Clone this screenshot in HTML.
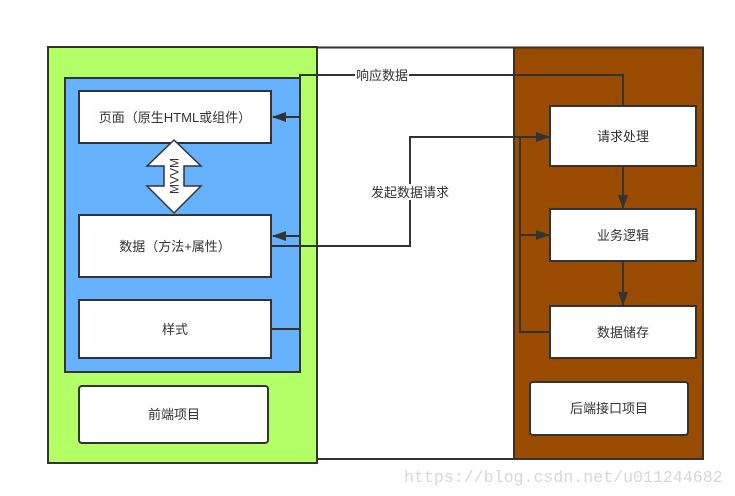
<!DOCTYPE html>
<html><head><meta charset="utf-8"><style>
html,body{margin:0;padding:0;background:#fff;width:735px;height:496px;overflow:hidden}
svg text{font-family:"Liberation Sans","Noto Sans CJK SC",sans-serif;font-size:13px;fill:#333}
</style></head><body>
<svg width="735" height="496" viewBox="0 0 735 496" xmlns="http://www.w3.org/2000/svg">
<defs>
<marker id="a" markerWidth="14" markerHeight="10" refX="13" refY="5" orient="auto" markerUnits="userSpaceOnUse">
<path d="M0,0 L14,5 L0,10 z" fill="#333"/></marker>
</defs>
<rect x="317" y="47.5" width="197" height="411.5" fill="#fff" stroke="#333" stroke-width="2"/>
<rect x="48" y="47" width="269" height="416" fill="#b3ff66" stroke="#333" stroke-width="2"/>
<rect x="514" y="47.5" width="189" height="411.5" fill="#994c00" stroke="#333" stroke-width="2"/>
<rect x="65" y="78" width="235" height="294" fill="#66b2ff" stroke="#333" stroke-width="2"/>
<rect x="79" y="91" width="192" height="52" fill="#fff" stroke="#333" stroke-width="2"/>
<text x="175" y="122" text-anchor="middle">页面（原生HTML或组件）</text>
<rect x="79" y="215" width="192" height="62" fill="#fff" stroke="#333" stroke-width="2"/>
<text x="175" y="251" text-anchor="middle">数据（方法+属性）</text>
<rect x="79" y="300" width="192" height="58" fill="#fff" stroke="#333" stroke-width="2"/>
<text x="175" y="334" text-anchor="middle">样式</text>
<rect x="79" y="386" width="189" height="57" rx="3" fill="#fff" stroke="#333" stroke-width="2"/>
<text x="174" y="419" text-anchor="middle">前端项目</text>
<path d="M174,140 L201,166 L184,166 L184,186 L201,186 L174,213 L147,186 L164,186 L164,166 L147,166 Z" fill="#fff" stroke="#333" stroke-width="1.5"/>
<text x="0" y="0" transform="translate(178.5,176) rotate(-90)" text-anchor="middle" style="font-size:12px">MVVM</text>
<rect x="550" y="106" width="146" height="60" fill="#fff" stroke="#333" stroke-width="2"/>
<text x="623" y="141" text-anchor="middle">请求处理</text>
<rect x="550" y="209" width="146" height="52" fill="#fff" stroke="#333" stroke-width="2"/>
<text x="623" y="240" text-anchor="middle">业务逻辑</text>
<rect x="550" y="306" width="146" height="52" fill="#fff" stroke="#333" stroke-width="2"/>
<text x="623" y="337" text-anchor="middle">数据储存</text>
<rect x="530" y="382" width="158" height="53" rx="3" fill="#fff" stroke="#333" stroke-width="2"/>
<text x="609" y="413" text-anchor="middle">后端接口项目</text>
<g fill="none" stroke="#333" stroke-width="2">
<path d="M623,106 L623,75 L300,75 L300,329 L271,329"/>
<path d="M300,117 L273,117" marker-end="url(#a)"/>
<path d="M300,236 L273,236" marker-end="url(#a)"/>
<path d="M271,246 L410,246 L410,137 L549,137" marker-end="url(#a)"/>
<path d="M550,332 L520,332 L520,137"/>
<path d="M520,235 L549,235" marker-end="url(#a)"/>
<path d="M623,166 L623,208" marker-end="url(#a)"/>
<path d="M623,261 L623,305" marker-end="url(#a)"/>
</g>
<rect x="355" y="67" width="54" height="16" fill="#fff"/>
<text x="382" y="80" text-anchor="middle">响应数据</text>
<rect x="368" y="184" width="84" height="16" fill="#fff"/>
<text x="410" y="197" text-anchor="middle">发起数据请求</text>
<text x="404" y="482" style="font-family:'Liberation Mono',monospace;font-size:16.6px;fill:#d8d8d8">https://blog.csdn.net/u011244682</text>
</svg>
</body></html>
